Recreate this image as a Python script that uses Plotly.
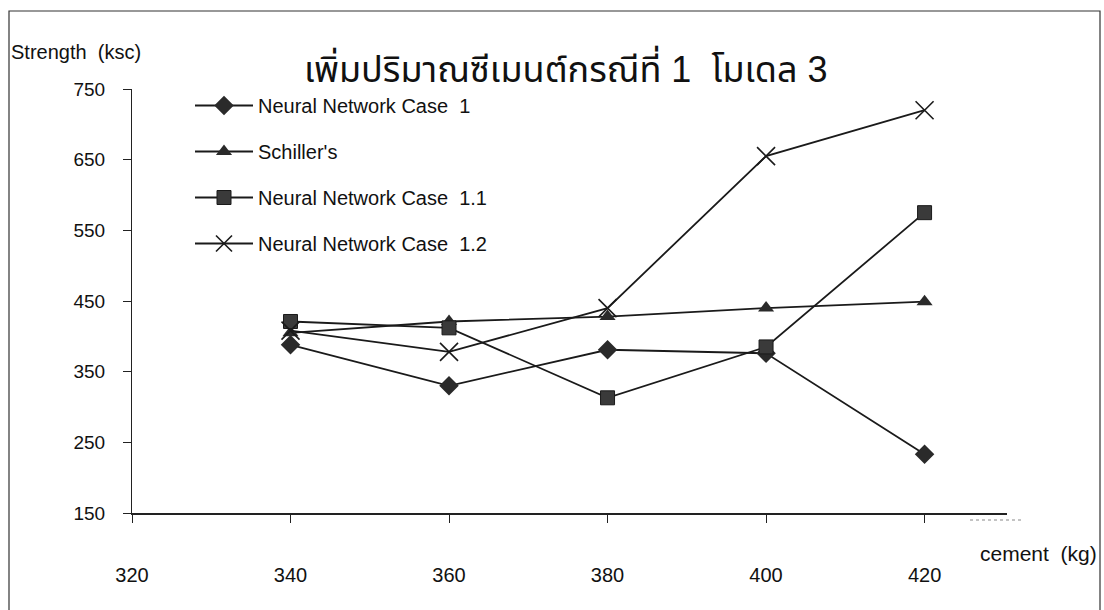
import plotly.graph_objects as go

cement = [340, 360, 380, 400, 420]
nn_case_1 = [388, 330, 381, 376, 233]
schillers = [405, 421, 428, 440, 449]
nn_case_1_1 = [421, 412, 313, 385, 575]
nn_case_1_2 = [408, 378, 440, 655, 720]

x_ticks = [320, 340, 360, 380, 400, 420]
y_ticks = [150, 250, 350, 450, 550, 650, 750]

title_text = "เพิ่มปริมาณซีเมนต์กรณีที่ 1  โมเดล 3"
series = [
    ("Neural Network Case  1", nn_case_1, dict(symbol="diamond", size=15, color="#2a2a2a")),
    ("Schiller's", schillers, dict(symbol="triangle-up", size=14, color="#2a2a2a")),
    ("Neural Network Case  1.1", nn_case_1_1, dict(symbol="square", size=14, color="#3a3a3a",
                                                    line=dict(color="#1a1a1a", width=1))),
    ("Neural Network Case  1.2", nn_case_1_2, dict(symbol="x-thin", size=18,
                                                    line=dict(color="#1a1a1a", width=1.6))),
]

FONT = "Liberation Sans, Arial, Noto Sans Thai, Loma, Garuda, DejaVu Sans, sans-serif"

fig = go.Figure()
for i, (name, vals, mk) in enumerate(series):
    fig.add_trace(go.Scatter(
        x=cement, y=vals, name=name, mode="lines+markers",
        line=dict(color="#1a1a1a", width=1.8),
        marker=mk, legendgroup=f"g{i}",
    ))

L, R, T, B = 132, 97, 89, 97
W, H = 1104, 610
pw, ph = W - L - R, H - T - B

def px_x(x):
    return (x - L) / pw

def px_y(y):
    return (H - B - y) / ph

fig.update_layout(
    width=W, height=H,
    margin=dict(l=L, r=R, t=T, b=B),
    paper_bgcolor="white", plot_bgcolor="white",
    font=dict(family=FONT, size=20, color="#111"),
    showlegend=True,
    legend=dict(
        x=px_x(190), y=px_y(86), xanchor="left", yanchor="top",
        bgcolor="rgba(0,0,0,0)", font=dict(size=20, color="#111"),
        tracegroupgap=17, itemwidth=58,
    ),
    xaxis=dict(
        range=[320, 430.4], tickvals=x_ticks, ticktext=[str(v) for v in x_ticks],
        showgrid=False, zeroline=False, showline=True, linecolor="#222", linewidth=1.5,
        ticks="outside", ticklen=8, tickcolor="#222", tickwidth=1,
        ticklabelstandoff=35, tickfont=dict(size=20),
    ),
    yaxis=dict(
        range=[150, 750], tickvals=y_ticks, ticktext=[str(v) for v in y_ticks],
        showgrid=False, zeroline=False, showline=True, linecolor="#222", linewidth=1.2,
        ticks="outside", ticklen=8, tickcolor="#222", tickwidth=1,
        ticklabelstandoff=14, tickfont=dict(size=19),
    ),
    annotations=[
        dict(text=title_text, x=px_x(566), y=px_y(67), xref="paper", yref="paper",
             showarrow=False, xanchor="center", yanchor="middle",
             font=dict(size=36, color="#111", family=FONT)),
        dict(text="Strength  (ksc)", x=px_x(9), y=px_y(52), xref="paper", yref="paper",
             showarrow=False, xanchor="left", yanchor="middle", font=dict(size=20)),
        dict(text="cement  (kg)", x=px_x(1099), y=px_y(553), xref="paper", yref="paper",
             showarrow=False, xanchor="right", yanchor="middle", font=dict(size=21)),
    ],
    shapes=[
        dict(type="rect", xref="paper", yref="paper",
             x0=px_x(9), x1=px_x(1100), y0=px_y(625), y1=px_y(11),
             line=dict(color="#333", width=1.2)),
        dict(type="line", xref="paper", yref="paper",
             x0=px_x(970), x1=px_x(1022), y0=px_y(520), y1=px_y(520),
             line=dict(color="#888", width=1, dash="dot")),
    ],
)

fig.write_html("out.html", config={"displayModeBar": False},
               post_script="document.body.style.margin='0';document.body.style.overflow='hidden';")
